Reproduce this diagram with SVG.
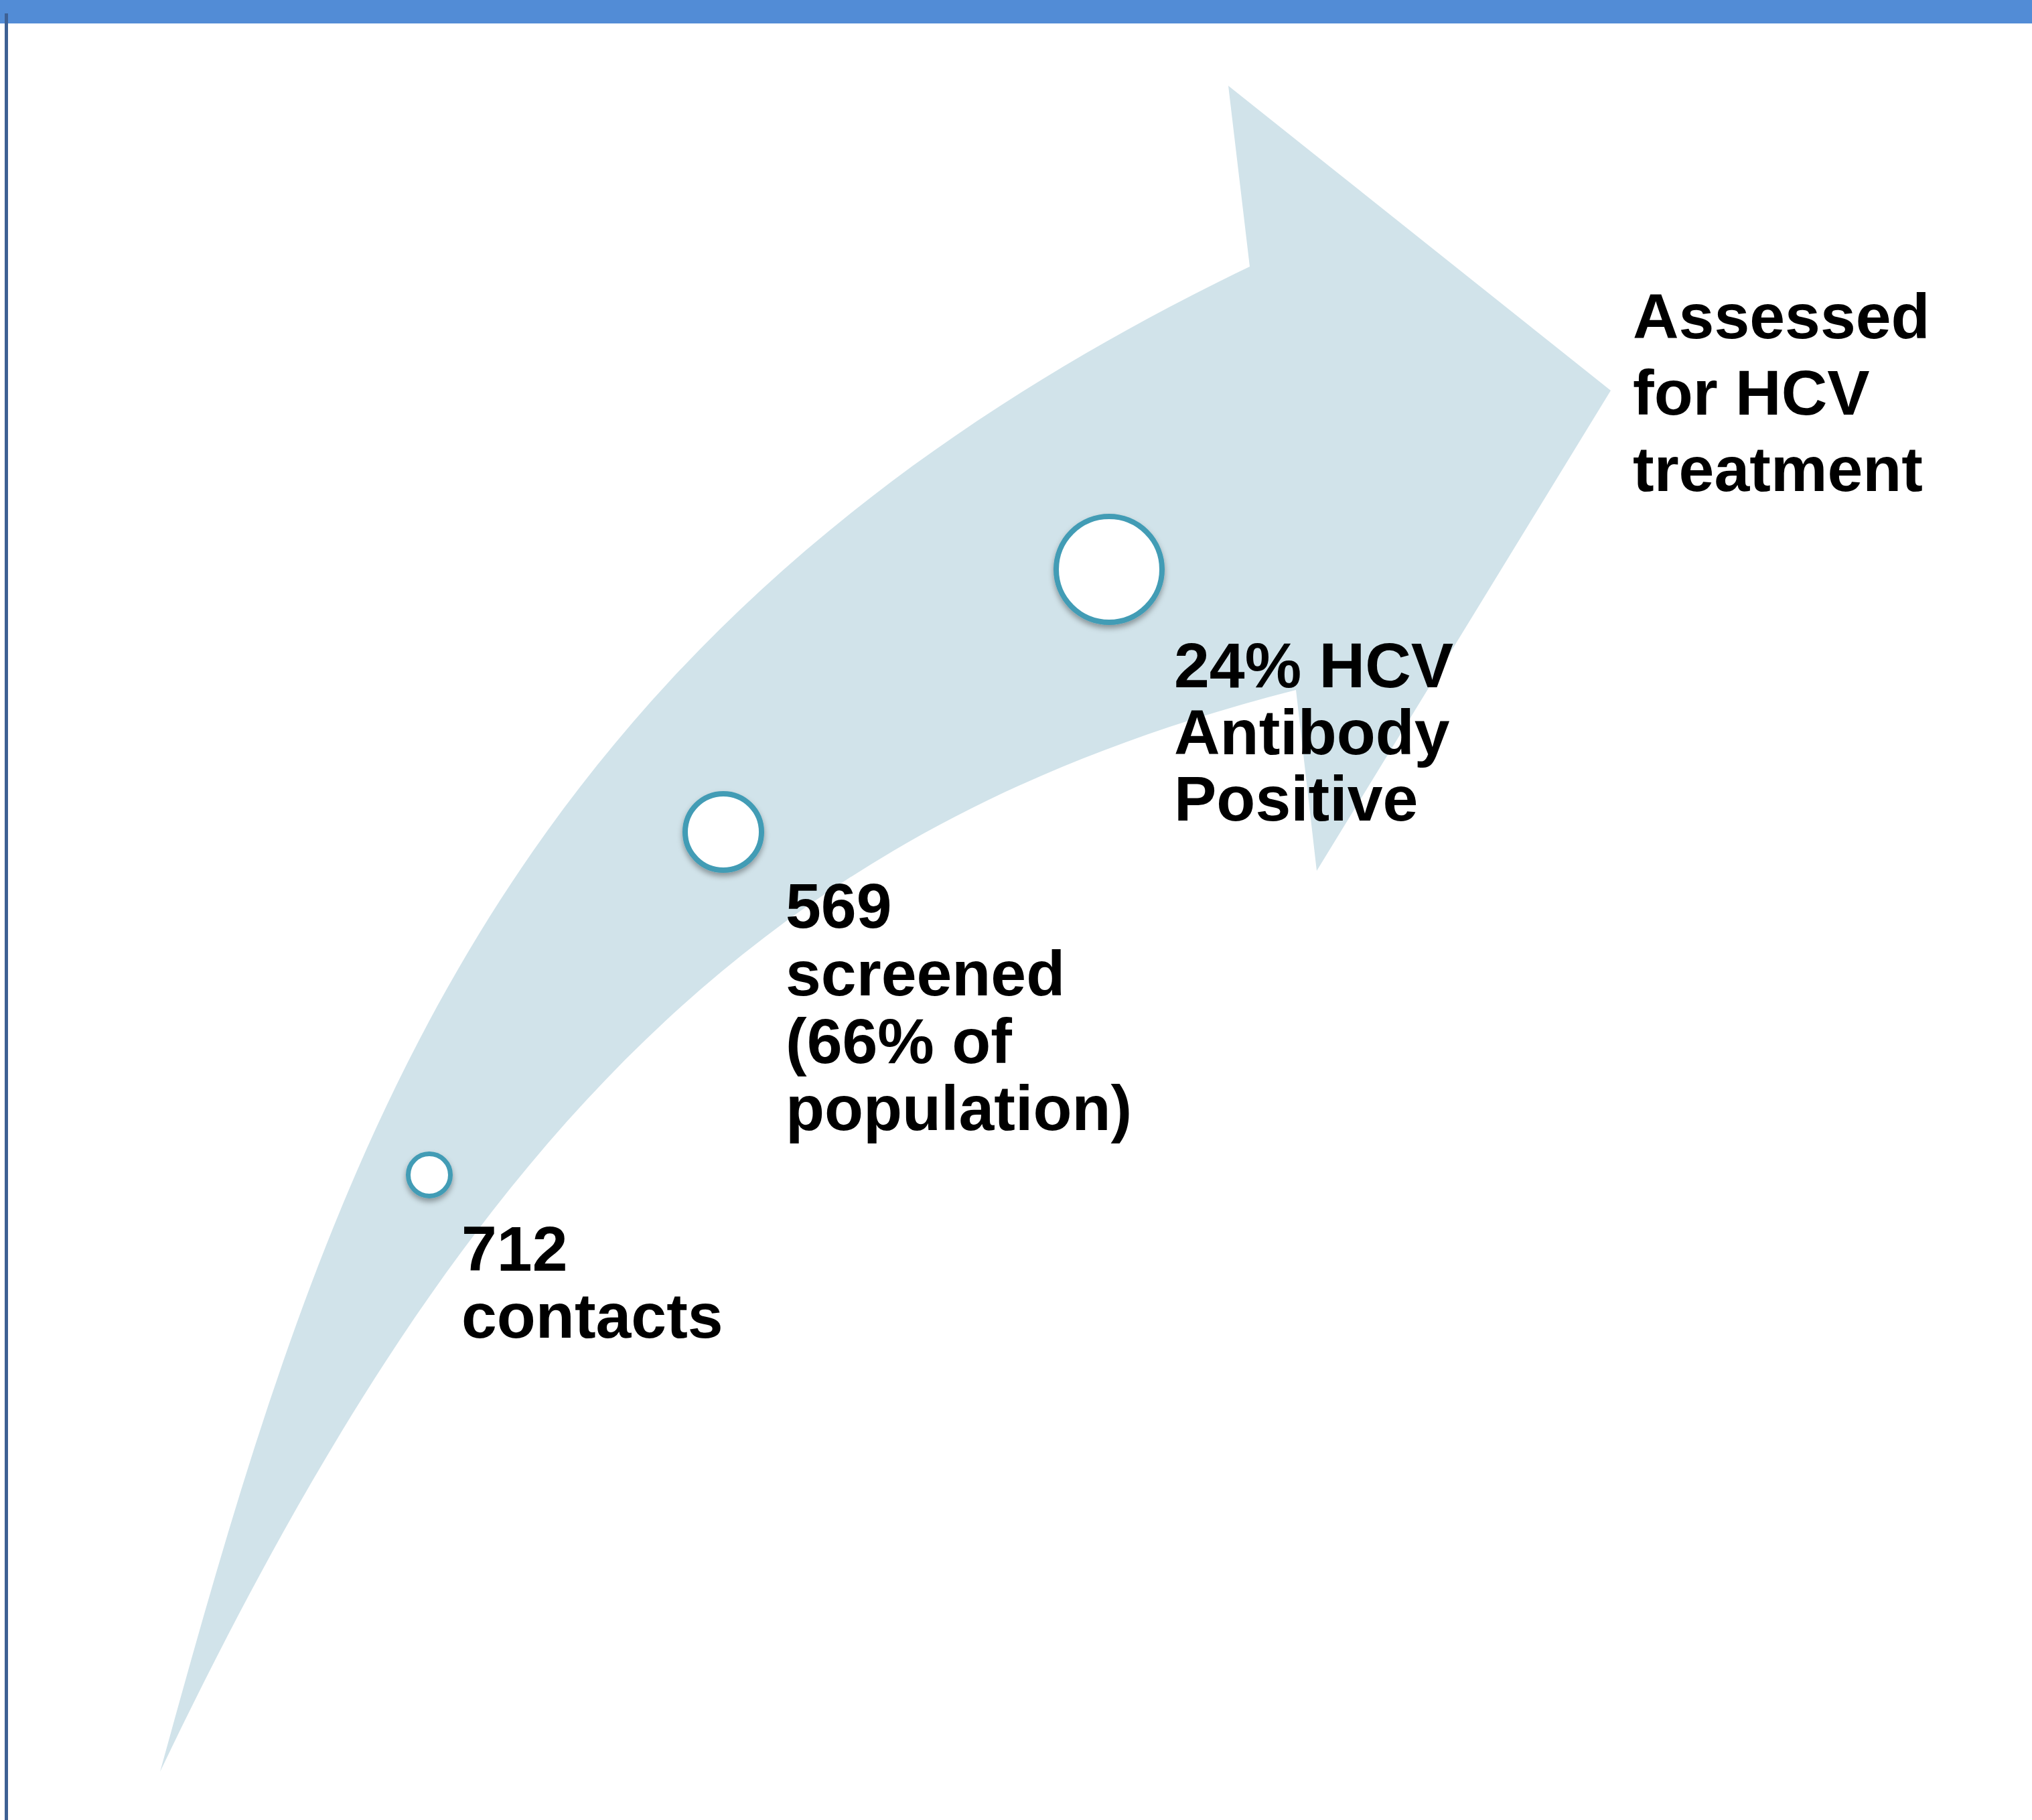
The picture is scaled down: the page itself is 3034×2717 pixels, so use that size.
<svg xmlns="http://www.w3.org/2000/svg" width="3034" height="2717" viewBox="0 0 3034 2717">
  <defs>
    <filter id="shadow" x="-30%" y="-30%" width="160%" height="170%">
      <feDropShadow dx="0" dy="5" stdDeviation="4" flood-color="#000000" flood-opacity="0.35"/>
    </filter>
  </defs>
  <style>
    .step { fill: #ffffff; stroke: #429CB5; filter: url(#shadow); }
    .label { font-family: "Liberation Sans", Arial, sans-serif; font-weight: bold; font-size: 95px; fill: #000000; }
  </style>

  <rect x="0" y="0" width="3034" height="2717" fill="#ffffff"/>
  <!-- header band and page rule -->
  <rect x="0" y="0" width="3034" height="35" fill="#528CD6"/>
  <line x1="9.5" y1="20" x2="9.5" y2="2717" stroke="#3E6194" stroke-width="5"/>

  <!-- curved upward arrow -->
  <g id="connectors">
    <path id="arrow" fill="#D1E3EA" d="M239,2645 C700,1680 1150,1230 1935,1030 L1966,1300 L2405,583 L1834,128 L1866,398 C722,949 485,1752 239,2645 Z"/>
  </g>

  <g id="step-contacts">
    <circle class="step" cx="641" cy="1754" r="31.5" stroke-width="7"/>
    <text class="label" x="689"><tspan x="689" y="1897">712</tspan><tspan x="689" y="1997">contacts</tspan></text>
  </g>

  <g id="step-screened">
    <circle class="step" cx="1080" cy="1242" r="57" stroke-width="8"/>
    <text class="label"><tspan x="1173" y="1385">569</tspan><tspan x="1173" y="1486">screened</tspan><tspan x="1173" y="1587">(66% of</tspan><tspan x="1173" y="1687">population)</tspan></text>
  </g>

  <g id="step-antibody">
    <circle class="step" cx="1656" cy="850" r="79" stroke-width="8"/>
    <text class="label"><tspan x="1753" y="1026">24% HCV</tspan><tspan x="1753" y="1126">Antibody</tspan><tspan x="1753" y="1225">Positive</tspan></text>
  </g>

  <g id="step-treatment">
    <text class="label"><tspan x="2438" y="505">Assessed</tspan><tspan x="2438" y="619">for HCV</tspan><tspan x="2438" y="733">treatment</tspan></text>
  </g>
</svg>
